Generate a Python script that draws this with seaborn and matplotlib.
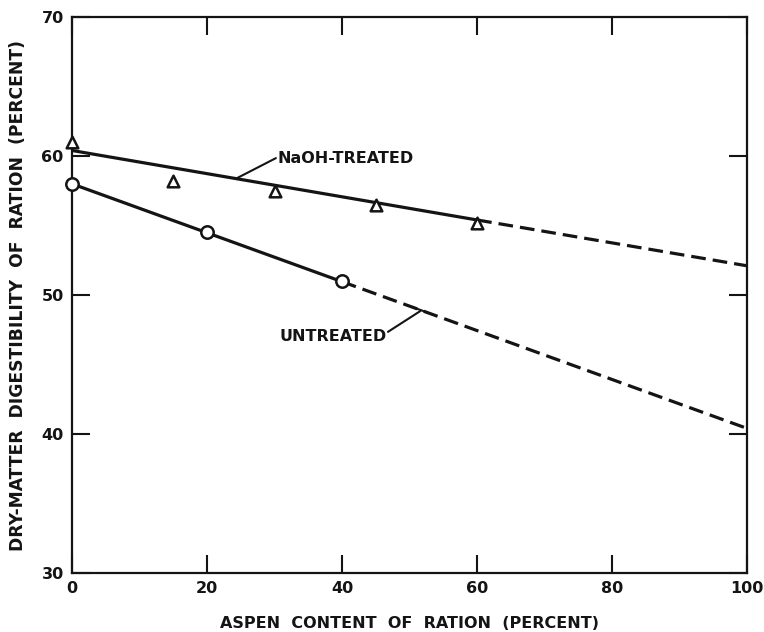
import matplotlib
matplotlib.use("Agg")
import matplotlib.pyplot as plt
import seaborn as sns
import pandas as pd

# Measured digestibility of rations
treated_x = [0, 15, 30, 45, 60]
treated_y = [61.0, 58.2, 57.5, 56.5, 55.2]
untreated_x = [0, 20, 40]
untreated_y = [58.0, 54.5, 51.0]

# Fitted regression lines: solid over the measured range, dashed beyond it
treated_fit_x = [0, 60, 100]
treated_fit_y = [60.4, 55.4, 52.1]
untreated_fit_x = [0, 40, 100]
untreated_fit_y = [58.0, 50.96, 40.4]

x_ticks = [0, 20, 40, 60, 80, 100]
x_tick_labels = ["0", "20", "40", "60", "80", "100"]
y_ticks = [30, 40, 50, 60, 70]
y_tick_labels = ["30", "40", "50", "60", "70"]

sns.set_theme(style="white")
plt.rcParams["font.family"] = ["DejaVu Sans"]

fig = plt.figure(figsize=(7.64, 6.32), dpi=100)
ax = fig.add_axes([0.0942, 0.0934, 0.8838, 0.8796])

ink = "#141414"
lw = 2.3

def fit_segments(xs, ys):
    solid = pd.DataFrame({"x": xs[:2], "y": ys[:2]})
    dashed = pd.DataFrame({"x": xs[1:], "y": ys[1:]})
    return solid, dashed

for fx, fy in [(treated_fit_x, treated_fit_y), (untreated_fit_x, untreated_fit_y)]:
    solid, dashed = fit_segments(fx, fy)
    sns.lineplot(data=solid, x="x", y="y", ax=ax, color=ink, lw=lw, zorder=2)
    sns.lineplot(data=dashed, x="x", y="y", ax=ax, color=ink, lw=lw,
                 linestyle=(0, (4.6, 2.2)), zorder=2)

sns.scatterplot(x=treated_x, y=treated_y, ax=ax, marker="^", s=70,
                facecolor="white", edgecolor=ink, linewidth=1.8, zorder=3,
                clip_on=False)
sns.scatterplot(x=untreated_x, y=untreated_y, ax=ax, marker="o", s=80,
                facecolor="white", edgecolor=ink, linewidth=1.8, zorder=3,
                clip_on=False)

# Curve labels with leader lines
label_kw = dict(fontsize=11.5, fontweight="bold", color=ink, va="center", ha="left")
ax.text(30.5, 59.85, "NaOH-TREATED", **label_kw)
ax.plot([24.4, 30.2], [58.4, 59.85], color=ink, lw=1.5)
ax.text(30.8, 47.05, "UNTREATED", **label_kw)
ax.plot([46.8, 51.6], [47.35, 48.85], color=ink, lw=1.5)
ax.plot([50.6, 52.6], [49.1, 48.75], color=ink, lw=1.5)

ax.set_xlim(0, 100)
ax.set_ylim(30, 70)
ax.set_xticks(x_ticks)
ax.set_xticklabels(x_tick_labels)
ax.set_yticks(y_ticks)
ax.set_yticklabels(y_tick_labels)
ax.tick_params(direction="in", length=13, width=1.5, colors=ink,
               left=True, bottom=True, top=True, right=True,
               labelsize=11.5, pad=6)
for t in ax.get_xticklabels() + ax.get_yticklabels():
    t.set_fontweight("bold")
for s in ax.spines.values():
    s.set_linewidth(1.6)
    s.set_color(ink)

ax.set_xlabel("ASPEN  CONTENT  OF  RATION  (PERCENT)", fontsize=11.5,
              fontweight="bold", color=ink, labelpad=14)
ax.set_ylabel("DRY-MATTER  DIGESTIBILITY  OF  RATION  (PERCENT)", fontsize=12.3,
              fontweight="bold", color=ink, labelpad=10)

fig.savefig("out.png", dpi=100, facecolor="white")
